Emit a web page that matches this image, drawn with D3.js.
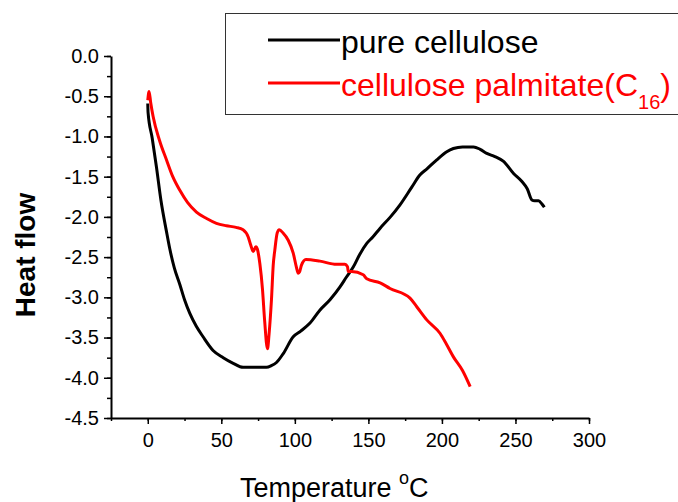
<!DOCTYPE html>
<html>
<head>
<meta charset="utf-8">
<script src="https://cdn.jsdelivr.net/npm/d3@7"></script>
<style>
  body { margin: 0; background: #fff; }
  text { font-family: Arial, "Liberation Sans", sans-serif; }
</style>
</head>
<body>
<div id="chart"></div>
<script>
// pure cellulose curve
const cellTemp = [0, 0.2, 3, 5.9, 9, 12.7, 15, 18, 21.8, 25, 28.6, 33, 37.6, 44.4, 51.3, 58.1, 64.8, 72, 80.7, 84, 87.5, 92.1, 98.9, 104, 110.3, 117, 123.9, 130.7, 135, 139.8, 144, 148.9, 153, 158, 165, 171.5, 179.5, 185, 190, 196.5, 203.3, 207.8, 214, 221.5, 226, 230.5, 236, 241.9, 248.7, 254.4, 258, 261.2, 263, 265.7, 268, 269.6];
const cellFlow = [-0.59, -0.7, -1.02, -1.38, -1.8, -2.18, -2.4, -2.63, -2.84, -3.03, -3.2, -3.36, -3.49, -3.66, -3.75, -3.82, -3.87, -3.87, -3.87, -3.85, -3.81, -3.7, -3.49, -3.42, -3.32, -3.16, -3.03, -2.87, -2.75, -2.62, -2.47, -2.33, -2.25, -2.14, -2.0, -1.85, -1.63, -1.48, -1.4, -1.29, -1.19, -1.15, -1.13, -1.13, -1.16, -1.21, -1.25, -1.31, -1.46, -1.56, -1.65, -1.79, -1.8, -1.8, -1.84, -1.88];

// cellulose palmitate (C16) curve
const palmTemp = [0, 0.9, 2, 3.6, 8, 12.7, 17, 21.8, 27, 33.1, 40, 46.7, 53.5, 60, 64.8, 68.3, 70, 71.7, 73.5, 74.5, 76.2, 78, 79.5, 81.4, 82.5, 84.1, 85.3, 86.4, 88, 89.4, 92, 95.5, 98.9, 101, 102.3, 103.3, 104.5, 107.5, 117, 128.3, 134, 135.8, 136.3, 138.6, 146.5, 148.9, 158, 164.7, 178.3, 183, 189.7, 198.8, 203, 207.8, 214, 219.2];
const palmFlow = [-0.55, -0.44, -0.58, -0.75, -1.05, -1.29, -1.5, -1.67, -1.82, -1.94, -2.02, -2.08, -2.11, -2.13, -2.16, -2.25, -2.35, -2.43, -2.37, -2.4, -2.58, -2.9, -3.3, -3.64, -3.45, -3.03, -2.6, -2.41, -2.2, -2.16, -2.2, -2.29, -2.45, -2.62, -2.7, -2.68, -2.6, -2.53, -2.55, -2.59, -2.59, -2.62, -2.68, -2.68, -2.72, -2.77, -2.82, -2.89, -3.01, -3.12, -3.28, -3.45, -3.58, -3.74, -3.91, -4.11];

const xTicks = [0, 50, 100, 150, 200, 250, 300];
const yTicks = [0, -0.5, -1, -1.5, -2, -2.5, -3, -3.5, -4, -4.5];
const seriesNames = ["pure cellulose", "cellulose palmitate(C"];
const seriesColors = ["#000000", "#ff0000"];

const W = 678, H = 502;
const svg = d3.select("#chart").append("svg")
  .attr("width", W).attr("height", H);

const x = d3.scaleLinear().domain([-25, 300]).range([111, 589]);
const y = d3.scaleLinear().domain([-4.5, 0]).range([418, 56]);

// minor ticks first
svg.append("g")
  .attr("transform", "translate(0,418)")
  .call(d3.axisBottom(x).tickValues(d3.range(-25, 301, 25)).tickSize(3).tickFormat(""))
  .call(g => g.select(".domain").remove())
  .selectAll("line").attr("stroke-width", 1.5);
svg.append("g")
  .attr("transform", "translate(111,0)")
  .call(d3.axisLeft(y).tickValues(d3.range(-4.5, 0.01, 0.25)).tickSize(4).tickFormat(""))
  .call(g => g.select(".domain").remove())
  .selectAll("line").attr("stroke-width", 1.5);

const xAxis = svg.append("g")
  .attr("transform", "translate(0,418)")
  .call(d3.axisBottom(x).tickValues(xTicks).tickSize(6).tickSizeOuter(0).tickPadding(9));
const yAxis = svg.append("g")
  .attr("transform", "translate(111,0)")
  .call(d3.axisLeft(y).tickValues(yTicks).tickSize(7).tickSizeOuter(0).tickPadding(5)
    .tickFormat(d3.format(".1f")));

[xAxis, yAxis].forEach(g => {
  g.select(".domain").attr("stroke-width", 2);
  g.selectAll(".tick line").attr("stroke-width", 1.5);
  g.selectAll("text").attr("font-size", 20).attr("fill", "#000")
    .style("font-family", "Arial, 'Liberation Sans', sans-serif");
});
yAxis.selectAll("text").text(d => d3.format(".1f")(d).replace("−", "-"));

// curves
const line = d3.line()
  .x(d => x(d[0]))
  .y(d => y(d[1]))
  .curve(d3.curveMonotoneX);

svg.append("path")
  .datum(cellTemp.map((t, i) => [t, cellFlow[i]]))
  .attr("d", line)
  .attr("fill", "none")
  .attr("stroke", seriesColors[0])
  .attr("stroke-width", 3);

svg.append("path")
  .datum(palmTemp.map((t, i) => [t, palmFlow[i]]))
  .attr("d", line)
  .attr("fill", "none")
  .attr("stroke", seriesColors[1])
  .attr("stroke-width", 3);

// axis titles
svg.append("text")
  .attr("transform", "translate(35,255) rotate(-90)")
  .attr("text-anchor", "middle")
  .attr("font-size", 28)
  .attr("font-weight", "bold")
  .text("Heat flow");

const xt = svg.append("text")
  .attr("x", 240).attr("y", 497)
  .attr("font-size", 27);
xt.append("tspan").text("Temperature ");
xt.append("tspan").attr("font-size", 18).attr("dy", -13).text("o");
xt.append("tspan").attr("dy", 13).text("C");

// legend
const legend = svg.append("g");
legend.append("rect")
  .attr("x", 225.5).attr("y", 13.5)
  .attr("width", 480).attr("height", 101)
  .attr("fill", "#fff")
  .attr("stroke", "#333")
  .attr("stroke-width", 1);

seriesNames.forEach((name, i) => {
  const ly = 40 + i * 43;
  legend.append("line")
    .attr("x1", 268).attr("x2", 340)
    .attr("y1", ly).attr("y2", ly)
    .attr("stroke", seriesColors[i])
    .attr("stroke-width", 3);
  const t = legend.append("text")
    .attr("x", 341).attr("y", ly + 13)
    .attr("font-size", 32)
    .attr("fill", seriesColors[i]);
  t.append("tspan").text(name);
  if (i === 1) {
    t.append("tspan").attr("font-size", 20).attr("dy", 13).text("16");
    t.append("tspan").attr("dy", -13).text(")");
  }
});
</script>
</body>
</html>
